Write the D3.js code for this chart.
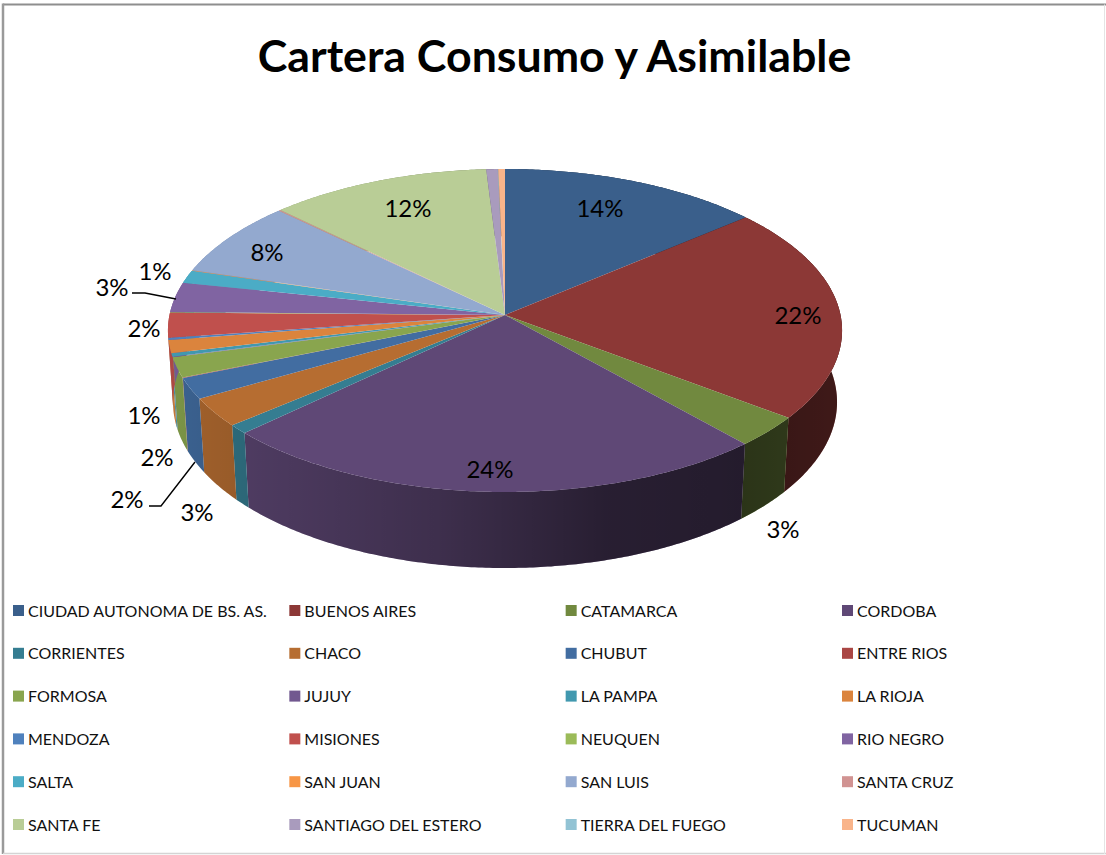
<!DOCTYPE html>
<html>
<head>
<meta charset="utf-8">
<script src="https://cdn.jsdelivr.net/npm/d3@7"></script>
<style>
html, body { margin: 0; padding: 0; background: #fff; }
svg { display: block; font-family: Lato, "Open Sans", sans-serif; }
</style>
</head>
<body>
<svg id="chart" width="1106" height="855"></svg>
<script>
const title = 'Cartera Consumo y Asimilable';

const provinces = ['CIUDAD AUTONOMA DE BS. AS.', 'BUENOS AIRES', 'CATAMARCA', 'CORDOBA',
    'CORRIENTES', 'CHACO', 'CHUBUT', 'ENTRE RIOS',
    'FORMOSA', 'JUJUY', 'LA PAMPA', 'LA RIOJA',
    'MENDOZA', 'MISIONES', 'NEUQUEN', 'RIO NEGRO',
    'SALTA', 'SAN JUAN', 'SAN LUIS', 'SANTA CRUZ',
    'SANTA FE', 'SANTIAGO DEL ESTERO', 'TIERRA DEL FUEGO', 'TUCUMAN'];

const shares = [13.8, 21.6, 3.1, 24.5,
    0.9, 2.9, 2.1, 0.05,
    2.0, 0.05, 0.35, 1.3,
    0.2, 2.5, 0.06, 3.0,
    1.3, 0.05, 7.6, 0.1,
    11.7, 0.6, 0.03, 0.35];

const colors = ['#3a5f8b', '#8c3836', '#71893f', '#5f4876',
    '#357d91', '#b66d31', '#426da1', '#aa4644',
    '#89a54e', '#71588f', '#4198af', '#db843d',
    '#4f81bd', '#c0504d', '#9bbb59', '#8064a2',
    '#4bacc6', '#f79646', '#93a9cf', '#d19392',
    '#b9cd96', '#a99bbd', '#92c3d4', '#f9b48a'];

// where each printed percentage sits, the tiny slices get no label
const labelSpots = new Map([
    ['CIUDAD AUTONOMA DE BS. AS.', [600, 208]], ['BUENOS AIRES', [798, 315]],
    ['CATAMARCA', [783, 529]], ['CORDOBA', [490, 469]],
    ['CHACO', [197, 512]], ['CHUBUT', [127, 499]],
    ['FORMOSA', [157, 457]], ['LA RIOJA', [144, 415]],
    ['MISIONES', [144, 328]], ['RIO NEGRO', [112, 287]],
    ['SALTA', [155, 271]], ['SAN LUIS', [267, 252]],
    ['SANTA FE', [408, 208]]
]);

const leaders = [
    [[132, 293], [145, 293], [176, 299]],
    [[149, 506], [161, 506], [195, 462]]
];

// perspective of the disc, fitted on the picture
const apex = [505, 315];
const scaleX = 335.5, scaleY = 160, tilt = 0.096;
const drop = 72.5, shrink = 0.015;

function project (angle, bottom) {
    const X = Math.sin(angle), Y = Math.cos(angle);
    const w = 1 + tilt * Y + (bottom ? shrink : 0);
    return [apex[0] + scaleX * X / w, apex[1] + (-scaleY * Y + (bottom ? drop : 0)) / w];
}

function rim (a0, a1, bottom) {
    const n = Math.max(2, Math.ceil((a1 - a0) / 0.01));
    return d3.range(n + 1).map((i) => project(a0 + (a1 - a0) * i / n, bottom));
}

const svg = d3.select('#chart');
const line = d3.line();
const slices = d3.pie().sort(null).value((d) => d)(shares);
const total = d3.sum(shares);
const pct = (v) => d3.format('.0f')(v / total * 100) + '%';

// frame, dark on top and left, faint on the other two sides
[[3, 4.5, 1106, 4.5, '#8e8e8e', 2], [3, 3.5, 3, 854, '#9a9a9a', 2.5],
    [3, 853.5, 1106, 853.5, '#d4d4d4', 1.5], [1104.5, 4.5, 1104.5, 854, '#e4e4e4', 1]].forEach((b) => {
    svg.append('line')
        .attr('x1', b[0]).attr('y1', b[1]).attr('x2', b[2]).attr('y2', b[3])
        .attr('stroke', b[4]).attr('stroke-width', b[5]);
});

svg.append('text')
    .attr('x', 554.5).attr('y', 72)
    .attr('text-anchor', 'middle')
    .attr('font-size', 44.7).attr('font-weight', 700)
    .text(title);

// shade of the side wall, darkest on the right
const defs = svg.append('defs');
const shade = defs.append('linearGradient')
    .attr('id', 'wallShade')
    .attr('gradientUnits', 'userSpaceOnUse')
    .attr('x1', 168).attr('x2', 842).attr('y1', 0).attr('y2', 0);
[[0, 0.1], [0.12, 0.18], [0.4, 0.35], [0.65, 0.58], [0.85, 0.62], [1, 0.55]].forEach((s) => {
    shade.append('stop').attr('offset', s[0]).attr('stop-color', '#000').attr('stop-opacity', s[1]);
});

const pie = svg.append('g');

slices.forEach((d) => {
    const path = line(rim(d.startAngle, d.endAngle, false).concat(rim(d.startAngle, d.endAngle, true).reverse())) + 'Z';
    pie.append('path').attr('d', path).attr('fill', colors[d.index]);
    pie.append('path').attr('d', path).attr('fill', 'url(#wallShade)');
});

slices.forEach((d) => {
    pie.append('path')
        .attr('d', line([apex].concat(rim(d.startAngle, d.endAngle, false))) + 'Z')
        .attr('fill', colors[d.index]);
});

leaders.forEach((l) => {
    svg.append('path').attr('d', line(l)).attr('fill', 'none').attr('stroke', '#000').attr('stroke-width', 1.4);
});

slices.forEach((d) => {
    const spot = labelSpots.get(provinces[d.index]);
    if (!spot) return;
    svg.append('text')
        .attr('x', spot[0]).attr('y', spot[1] + 8.5)
        .attr('text-anchor', 'middle')
        .attr('font-size', 24)
        .attr('fill', '#000')
        .text(pct(d.value));
});

// legend, 4 columns by 6 rows
const legendCol = d3.scalePoint().domain(d3.range(4)).range([13, 842]);
const legendRow = d3.scalePoint().domain(d3.range(6)).range([610.5, 824.5]);

const entries = svg.append('g').selectAll('g')
    .data(provinces)
    .enter()
    .append('g')
    .attr('transform', (d, i) => `translate(${legendCol(i % 4)}, ${legendRow(Math.floor(i / 4))})`);

entries.append('rect')
    .attr('x', 0).attr('y', -5.5).attr('width', 11).attr('height', 11)
    .attr('fill', (d, i) => colors[i]);

entries.append('text')
    .attr('x', 15).attr('y', 6)
    .attr('font-size', 16)
    .attr('fill', '#111')
    .text((d) => d);
</script>
</body>
</html>
